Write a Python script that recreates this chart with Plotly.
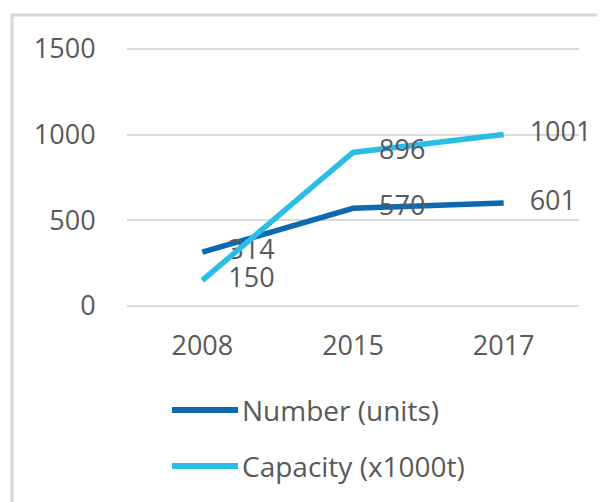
import plotly.graph_objects as go

# 数据
years = ["2008", "2015", "2017"]
number_units = [314, 570, 601]
capacity_kt = [150, 896, 1001]
series_names = ["Number (units)", "Capacity (x1000t)"]
y_ticks = [0, 500, 1000, 1500]

COLORS = ["#0E6AB0", "#2ABDE5"]
TEXT = "#595959"
GRID = "#D9D9D9"
FONT = "Open Sans"
FS = 27

# 页面 body 默认 8px 边距，图整体左上移 8px
OFF = 8
W, H = 605 - OFF, 502 - OFF
# 绘图区（上下各多留 2px，让 0/1500 网格线不被裁掉）
L, R, T, B = 127 - OFF, 26, 49 - OFF - 2, 196 - 2
PW, PH = W - L - R, H - T - B
YPAD = 2 * 1500 / (PH - 4)


def px(x):
    return (x - OFF - L) / PW


def py(y):
    return (H - B - (y - OFF)) / PH


fig = go.Figure()
for name, vals, color in zip(series_names, [number_units, capacity_kt], COLORS):
    fig.add_trace(go.Scatter(
        x=years, y=vals, name=name, mode="lines+markers+text",
        line=dict(color=color, width=5.5),
        # 透明大标记，只为把数据标签往右推
        marker=dict(size=40, color="rgba(0,0,0,0)", line=dict(width=0)),
        text=[str(v) for v in vals], textposition="middle right",
        textfont=dict(family=FONT, size=FS, color=TEXT),
        cliponaxis=False, hoverinfo="skip", showlegend=False,
    ))

# ---------- 自绘图例 ----------
for i, (name, color) in enumerate(zip(series_names, COLORS)):
    yy = py(410 + i * 56)
    fig.add_shape(type="line", xref="paper", yref="paper",
                  x0=px(172), x1=px(238), y0=yy, y1=yy,
                  line=dict(color=color, width=6))
    fig.add_annotation(xref="paper", yref="paper", x=px(240), y=yy,
                       text=name, showarrow=False, xanchor="left", yanchor="middle",
                       font=dict(family=FONT, size=28, color=TEXT))

# 外框（左、上边）
fig.add_shape(type="rect", xref="paper", yref="paper",
              x0=px(12), x1=px(700), y0=py(600), y1=py(15),
              line=dict(color="#D6D6D6", width=3), layer="below")

fig.update_xaxes(type="category", range=[-0.5, 2.5], showgrid=False,
                 showline=False, zeroline=False,
                 ticks="outside", ticklen=14, tickcolor="rgba(0,0,0,0)",
                 tickfont=dict(family=FONT, size=FS, color=TEXT))
fig.update_yaxes(range=[-YPAD, 1500 + YPAD], tickvals=y_ticks, showgrid=True,
                 gridcolor=GRID, gridwidth=2, zeroline=False, showline=False,
                 ticks="outside", ticklen=25, tickcolor="rgba(0,0,0,0)",
                 tickfont=dict(family=FONT, size=FS, color=TEXT))

fig.update_layout(width=W, height=H, margin=dict(l=L, r=R, t=T, b=B),
                  paper_bgcolor="white", plot_bgcolor="white",
                  font=dict(family=FONT, color=TEXT))

fig.write_html("out.html")
